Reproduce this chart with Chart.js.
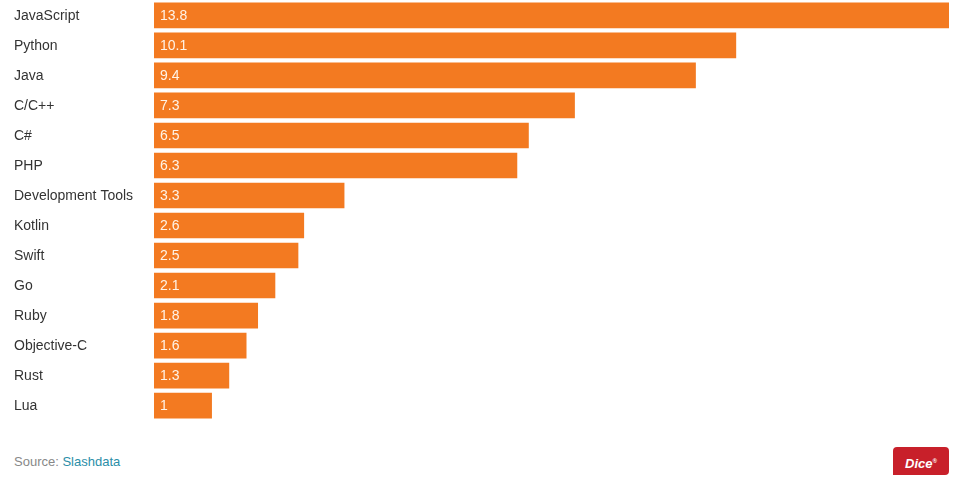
<!DOCTYPE html>
<html>
<head>
<meta charset="utf-8">
<script src="https://cdn.jsdelivr.net/npm/chart.js@4"></script>
<style>
  body { margin: 0; background: #fff; font-family: "Liberation Sans", Arial, sans-serif; overflow: hidden; }
  #wrap { position: relative; width: 958px; height: 488px; }
  #chartBox { position: absolute; left: 0; top: -8px; width: 958px; height: 437px; }
  #source { position: absolute; left: 14px; top: 454px; font-size: 13px; color: #888; }
  #source span { color: #2b8ea8; }
  #dice { position: absolute; left: 893px; top: 447px; width: 56px; height: 28px; background: #c8202a;
          border-radius: 4px 4px 4px 0; color: #fff; font: italic bold 13px "Liberation Sans", Arial, sans-serif;
          text-align: center; line-height: 28px; }
  #dice sup { font-size: 6px; }
</style>
</head>
<body>
<div id="wrap">
  <div id="chartBox"><canvas id="chart"></canvas></div>
  <div id="source">Source: <span>Slashdata</span></div>
  <div id="dice">Dice<sup>®</sup></div>
</div>
<script>
    const languages = ['JavaScript', 'Python', 'Java', 'C/C++', 'C#', 'PHP', 'Development Tools',
        'Kotlin', 'Swift', 'Go', 'Ruby', 'Objective-C', 'Rust', 'Lua'];
    const developers = [13.8, 10.1, 9.4, 7.3, 6.5, 6.3, 3.3, 2.6, 2.5, 2.1, 1.8, 1.6, 1.3, 1];

    // value written inside each bar, near its start
    const barLabels = {
        id: 'barLabels',
        afterDatasetsDraw(chart) {
            const ctx = chart.ctx;
            const meta = chart.getDatasetMeta(0);
            ctx.save();
            ctx.font = '14px "Liberation Sans", Arial, sans-serif';
            ctx.fillStyle = '#fff3e6';
            ctx.textAlign = 'left';
            ctx.textBaseline = 'middle';
            meta.data.forEach((bar, i) => {
                ctx.fillText(String(developers[i]), bar.base + 6, bar.y + 1);
            });
            ctx.restore();
        }
    };

    new Chart(document.getElementById('chart'), {
        type: 'bar',
        data: {
            labels: languages,
            datasets: [{
                data: developers,
                backgroundColor: '#f37a21',
                barThickness: 25,
            }],
        },
        options: {
            indexAxis: 'y',
            responsive: true,
            maintainAspectRatio: false,
            animation: false,
            layout: { padding: { left: 14, right: 9, top: 0, bottom: 0 } },
            plugins: { legend: { display: false }, tooltip: { enabled: false } },
            scales: {
                x: { display: false, min: 0, max: 13.8 },
                y: {
                    grid: { display: false },
                    border: { display: false },
                    afterFit(scale) { scale.width = 140; },
                    ticks: {
                        crossAlign: 'far',
                        padding: 0,
                        labelOffset: 1,
                        color: '#333',
                        font: { family: '"Liberation Sans", Arial, sans-serif', size: 14 },
                    },
                },
            },
        },
        plugins: [barLabels],
    });
</script>
</body>
</html>
